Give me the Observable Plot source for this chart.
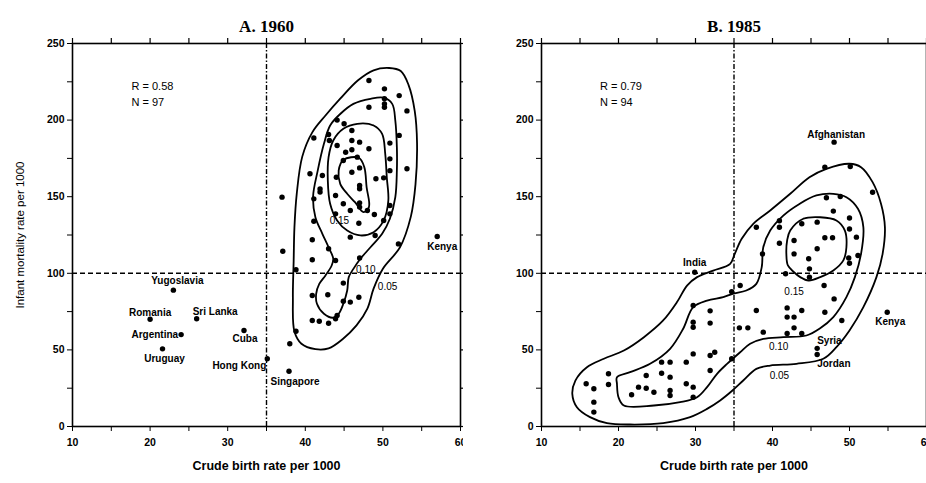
<!DOCTYPE html>
<html>
<head>
<meta charset="utf-8">
<script src="https://cdn.jsdelivr.net/npm/d3@7"></script>
<script src="https://cdn.jsdelivr.net/npm/@observablehq/plot@0.6"></script>
<style>
  body { margin: 0; background: #fff; }
  #wrap { display: flex; width: 926px; height: 483px; overflow: hidden; background: #fff; }
  #wrap > svg, #wrap > figure { flex: none; margin: 0; }
  g[aria-label="x-axis label"] text { font-size: 12.5px; }
  g[aria-label="y-axis label"] text { font-size: 11.5px; font-weight: normal; }
  g[aria-label="x-axis tick label"] text, g[aria-label="y-axis tick label"] text { font-size: 10.5px; }
</style>
</head>
<body>
<div id="wrap"></div>
<script>
// ---------- tick values ----------
const xTickValues = [10, 15, 20, 25, 30, 35, 40, 45, 50, 55, 60];
const yTickValues = [0, 25, 50, 75, 100, 125, 150, 175, 200, 225, 250];

// ---------- panel titles & annotations ----------
const titles = ["A. 1960", "B. 1985"];
const stats1960 = ["R = 0.58", "N = 97"];
const stats1985 = ["R = 0.79", "N = 94"];

// ---------- 1960: unlabeled countries [crude birth rate, infant mortality] ----------
const dots1960 = [
  [37.0,149.7],[37.1,114.4],[38.0,54.0],[38.8,62.2],[38.8,102.3],[40.9,69.2],[41.8,68.7],[43.0,67.4],
  [43.9,70.3],[44.1,72.5],[40.9,85.5],[42.9,86.0],[44.9,93.6],[44.9,81.8],[45.8,81.2],[46.9,84.4],
  [40.9,108.8],[43.9,108.4],[47.0,110.0],[43.0,116.0],[40.9,121.9],[45.8,123.6],[49.0,124.7],[52.0,119.2],
  [41.1,134.0],[46.9,132.7],[48.9,138.4],[50.9,138.8],[50.9,144.3],[47.0,143.2],[44.9,145.4],[41.1,148.6],
  [43.9,150.8],[41.9,153.0],[41.9,155.0],[47.0,155.2],[47.0,157.3],[49.1,161.7],[50.1,162.3],[42.2,163.8],
  [44.0,162.7],[46.0,166.0],[47.0,168.8],[44.9,173.6],[50.9,167.0],[53.1,168.2],[50.9,174.7],[50.9,185.0],
  [45.2,179.0],[46.0,180.6],[44.1,183.4],[48.2,181.3],[47.0,185.6],[46.0,186.7],[46.0,193.2],[43.1,186.7],
  [43.0,190.6],[41.1,188.3],[52.1,190.0],[45.0,197.6],[44.1,200.0],[53.1,206.0],[48.2,208.4],[50.2,208.4],
  [50.2,210.6],[50.2,213.9],[52.1,216.0],[50.2,220.4],[48.2,225.8],[46.7,175.8],[45.8,141.0],[50.1,134.5],
  [43.9,138.8],[40.6,165.0],[48.0,141.0],[47.0,146.0]
];
// labeled countries 1960
const names1960 = ["Yugoslavia","Romania","Sri Lanka","Argentina","Uruguay","Cuba","Hong Kong","Singapore","Kenya"];
const birth1960 = [23.0, 20.0, 26.0, 24.0, 21.6, 32.1, 35.1, 37.9, 57.0];
const mort1960  = [89.0, 70.0, 70.3, 60.0, 50.7, 62.7, 44.2, 36.1, 124.0];

// density contours 1960 (outer to inner)
const c05_1960 = [[50.8,234],[52.3,232],[53.3,223],[54.1,206],[54.4,185],[54.2,158],[53.6,137],[52.2,117],[50.0,103],[48.8,90],[48.0,77],[46.6,66],[44.8,57],[43.0,51],[41.3,50.5],[39.5,54],[38.6,62],[38.4,84],[38.5,108],[38.6,130],[38.9,152],[39.6,176],[40.9,192],[42.6,203],[44.5,214],[46.8,226],[48.8,232.5]];
const c10_1960 = [[46.2,102.9],[45.6,97.5],[45.4,88.8],[44.9,80.1],[44.3,73.6],[43.6,71],[42.4,73.6],[41.5,80.1],[41.4,86.6],[41.8,93.1],[42.6,98.6],[43.4,105.1],[43.6,109.5],[43.0,117],[42.2,125.8],[41.3,136.6],[41.0,150],[41.6,167],[42.4,184.5],[43.2,196.5],[44.5,204],[46.2,210.6],[48.4,213.9],[50.1,214.6],[51.2,210.6],[51.6,199.7],[51.8,182.3],[51.8,167.1],[51.6,149.7],[50.9,135.6],[49.9,125.8],[48.4,117],[47.1,109.5]];
const c15_1960 = [[46.7,197.6],[48.8,196.5],[49.9,191],[50.3,178],[50.5,162.7],[50.7,147.5],[50.1,134.5],[48.8,126.8],[47.1,124.7],[45.4,127.9],[44.1,134.5],[43.2,145.4],[42.9,160.6],[43.0,175.8],[43.6,186.7],[44.9,194.3]];
const c20_1960 = [[44.9,174],[46.9,175.4],[47.6,169.3],[47.9,156.2],[48.2,143.2],[47.5,139.9],[46.4,146.4],[45.4,151.9],[44.5,158.4],[44.3,167.1]];
const contourLabels1960 = ["0.15", "0.10", "0.05"];
const contourLabelX1960 = [44.4, 47.8, 50.6];
const contourLabelY1960 = [134, 102, 91];

// ---------- 1985 ----------
const dots1985 = [
  [15.8,27.9],[16.8,24.6],[16.8,15.9],[16.8,9.4],[18.7,34.4],[18.7,27.4],[21.7,20.7],[22.6,25.7],
  [23.6,33.3],[23.6,25.0],[24.6,22.4],[25.6,42.0],[25.6,34.8],[26.7,42.0],[26.7,32.2],[26.7,23.5],
  [26.7,20.2],[28.8,42.0],[28.8,27.9],[29.7,47.4],[29.7,25.7],[29.7,19.1],[31.9,46.3],[32.5,48.5],
  [31.9,36.6],[29.7,79.0],[29.7,68.1],[29.7,64.8],[31.9,75.5],[31.9,67.5],[34.7,44.2],[34.7,88.0],
  [35.8,92.0],[35.7,64.4],[36.8,64.4],[37.9,75.7],[38.8,61.6],[37.9,130.1],[38.7,112.7],[40.9,134.3],
  [40.9,130.1],[40.9,119.6],[41.7,99.7],[41.9,77.4],[41.9,71.4],[41.9,60.7],[42.8,121.4],[42.8,112.7],
  [42.8,71.4],[42.8,64.4],[43.8,132.3],[43.8,75.7],[43.8,60.7],[44.7,109.5],[44.8,102.9],[44.8,97.5],
  [45.8,133.4],[45.8,116.0],[46.8,169.3],[47.0,149.3],[46.8,123.2],[46.7,92.0],[46.8,74.6],[48.8,150.1],
  [47.8,123.2],[48.0,83.3],[47.9,140.6],[49.0,69.2],[50.1,169.7],[50.0,136.1],[50.0,128.9],[50.0,106.6],
  [49.9,110.0],[50.9,123.6],[51.1,111.6],[53.0,152.9]
];
const names1985 = ["Afghanistan","India","Kenya","Syria","Jordan"];
const birth1985 = [48.0, 29.9, 54.9, 45.8, 45.8];
const mort1985  = [185.6, 100.7, 74.6, 51.0, 47.0];

const c05_1985 = [[14.4,30],[15.9,38.7],[18.1,44.2],[20.7,49.6],[23.3,58.3],[25.8,69.2],[27.6,81.2],[28.9,92],[30.2,97.5],[32.3,101.8],[34.5,106.2],[35.1,112.7],[36.0,122.5],[37.5,132.3],[39.7,141],[42.3,151.9],[44.8,162.7],[47.0,168.2],[50.0,171.5],[51.5,169.3],[53.0,159.5],[54.1,145.3],[54.6,130.1],[54.3,112.7],[53.5,97.5],[51.8,77.9],[50.0,62.7],[48.3,51.8],[46.6,44.2],[43.1,40.9],[39.7,39.8],[37.9,37.6],[36.2,30],[34.8,23.5],[33.2,17],[31.5,11.5],[29.3,6.1],[25.8,2.2],[21.5,1.3],[18.5,2.2],[16.3,6.1],[14.6,12.6],[14.0,21.3]];
const c10_1985 = [[19.8,32.2],[21.5,35.5],[24.1,40.9],[26.7,50.7],[28.4,63.8],[29.7,77.9],[31.5,82.2],[33.6,84.4],[34.8,86.6],[36.6,88.8],[37.9,93.1],[38.6,104],[38.8,117],[39.7,127.9],[41.4,137.7],[43.5,145.3],[45.7,150.8],[47.9,151.9],[49.6,149.7],[51.1,142.1],[51.8,130.1],[51.5,112.7],[50.7,97.5],[49.6,84.4],[47.9,71.4],[46.1,63.8],[44.4,59.4],[41.4,58.3],[38.8,57.2],[37.1,54],[35.8,48.5],[34.1,40.9],[32.8,34.4],[31.5,25.7],[30.2,19.1],[28.0,15.9],[24.6,13.7],[20.7,13.7],[20.0,19.1],[19.8,27.9]];
const c15_1985 = [[42.3,127.9],[44.0,135.6],[46.2,136.6],[48.3,134.5],[49.4,127.9],[49.6,117],[49.2,108.4],[47.9,101.8],[46.2,97.5],[44.7,95.3],[43.6,97.5],[42.8,100.7],[42.0,105.1],[41.8,112.7],[41.9,121.4]];
const contourLabels1985 = ["0.15", "0.10", "0.05"];
const contourLabelX1985 = [42.8, 40.8, 40.9];
const contourLabelY1985 = [88, 52, 33];

// ---------- drawing ----------
const FONT = "'Liberation Sans', Arial, Helvetica, sans-serif";
const SERIF = "'Liberation Serif', 'Times New Roman', serif";

// label placement (style only)
const labelPlacement = {
  "Yugoslavia": {textAnchor: "middle", dx: 4, dy: -9},
  "Romania": {textAnchor: "middle", dx: 0, dy: -6},
  "Sri Lanka": {textAnchor: "start", dx: -4, dy: -7},
  "Argentina": {textAnchor: "end", dx: -3, dy: 0},
  "Uruguay": {textAnchor: "middle", dx: 2, dy: 10},
  "Cuba": {textAnchor: "middle", dx: 1, dy: 8},
  "Hong Kong": {textAnchor: "end", dx: -1, dy: 7},
  "Singapore": {textAnchor: "middle", dx: 6, dy: 11},
  "Kenya1960": {textAnchor: "start", dx: -10, dy: 10},
  "Afghanistan": {textAnchor: "middle", dx: 2, dy: -7},
  "India": {textAnchor: "middle", dx: 0, dy: -9},
  "Kenya1985": {textAnchor: "middle", dx: 3, dy: 10},
  "Syria": {textAnchor: "start", dx: 0, dy: -8},
  "Jordan": {textAnchor: "start", dx: 0, dy: 9}
};

function panel(cfg) {
  const W = 463, H = 483, mt = 43, mb = 57;
  const tickPx = 5;
  const yUnit = 250 / (H - mt - mb);
  const xUnit = 50 / (W - cfg.ml - cfg.mr);
  const dotRows = cfg.dots.map(([x, y]) => ({x, y}));
  const named = cfg.names.map((n, i) => ({name: n, x: cfg.birth[i], y: cfg.mort[i], key: n === "Kenya" ? "Kenya" + cfg.year : n}));
  const contourRows = cfg.contours.flatMap((c, k) => c.map(([x, y]) => ({x, y, k})));
  const clabels = cfg.clabels.map((t, i) => ({t, x: cfg.clx[i], y: cfg.cly[i]}));

  return Plot.plot({
    width: W, height: H,
    marginLeft: cfg.ml, marginRight: cfg.mr, marginTop: mt, marginBottom: mb,
    style: {fontFamily: FONT, fontSize: "10px", fontWeight: "bold", background: "white", color: "black", overflow: "visible"},
    x: {domain: [10, 60], ticks: xTickValues, tickFormat: d => d % 10 === 0 ? d : "", tickSize: tickPx, tickPadding: 7,
        label: "Crude birth rate per 1000", labelAnchor: "center", labelOffset: 43, labelArrow: "none"},
    y: {domain: [0, 250], ticks: yTickValues, tickFormat: d => d % 50 === 0 ? d : "", tickSize: tickPx, tickPadding: 3,
        label: cfg.ylabel, labelAnchor: "center", labelOffset: 57, labelArrow: "none"},
    marks: [
      Plot.frame({stroke: "black", strokeWidth: 1.6}),
      Plot.ruleX(xTickValues, {x: d => d, y1: 250, y2: 250 + tickPx * yUnit, stroke: "black", strokeWidth: 1.2}),
      Plot.ruleY(yTickValues, {y: d => d, x1: 60, x2: 60 + tickPx * xUnit, stroke: "black", strokeWidth: 1.2}),
      Plot.ruleY([100], {stroke: "black", strokeWidth: 1.4, strokeDasharray: "5,3"}),
      Plot.ruleX([35], {stroke: "black", strokeWidth: 1.4, strokeDasharray: "5,2,1.5,2"}),
      Plot.line(contourRows, {x: "x", y: "y", z: "k", curve: "catmull-rom-closed", stroke: "black", strokeWidth: 1.8}),
      Plot.dot(dotRows, {x: "x", y: "y", r: 2.7, fill: "black", stroke: "none"}),
      Plot.dot(named, {x: "x", y: "y", r: 2.7, fill: "black", stroke: "none"}),
      ...named.map(d => Plot.text([d], {x: "x", y: "y", text: "name", fontSize: 10, fontWeight: "bold", ...labelPlacement[d.key]})),
      Plot.text(clabels, {x: "x", y: "y", text: "t", fontSize: 10, fontWeight: "normal"}),
      Plot.text(cfg.stats, {x: 17.6, y: (d, i) => i === 0 ? 222 : 211.5, text: d => d, textAnchor: "start", fontSize: 11, fontWeight: "normal"}),
      Plot.text([cfg.title], {frameAnchor: "top", dy: -24, text: d => d, fontFamily: SERIF, fontSize: 17, fontWeight: "bold"})
    ]
  });
}

const wrap = document.getElementById("wrap");
wrap.append(panel({
  year: 1960, title: titles[0], ml: 72, mr: 3, ylabel: "Infant mortality rate per 1000",
  dots: dots1960, names: names1960, birth: birth1960, mort: mort1960,
  contours: [c05_1960, c10_1960, c15_1960, c20_1960],
  clabels: contourLabels1960, clx: contourLabelX1960, cly: contourLabelY1960, stats: stats1960
}));
wrap.append(panel({
  year: 1985, title: titles[1], ml: 78, mr: 0, ylabel: null,
  dots: dots1985, names: names1985, birth: birth1985, mort: mort1985,
  contours: [c05_1985, c10_1985, c15_1985],
  clabels: contourLabels1985, clx: contourLabelX1985, cly: contourLabelY1985, stats: stats1985
}));
</script>
</body>
</html>
